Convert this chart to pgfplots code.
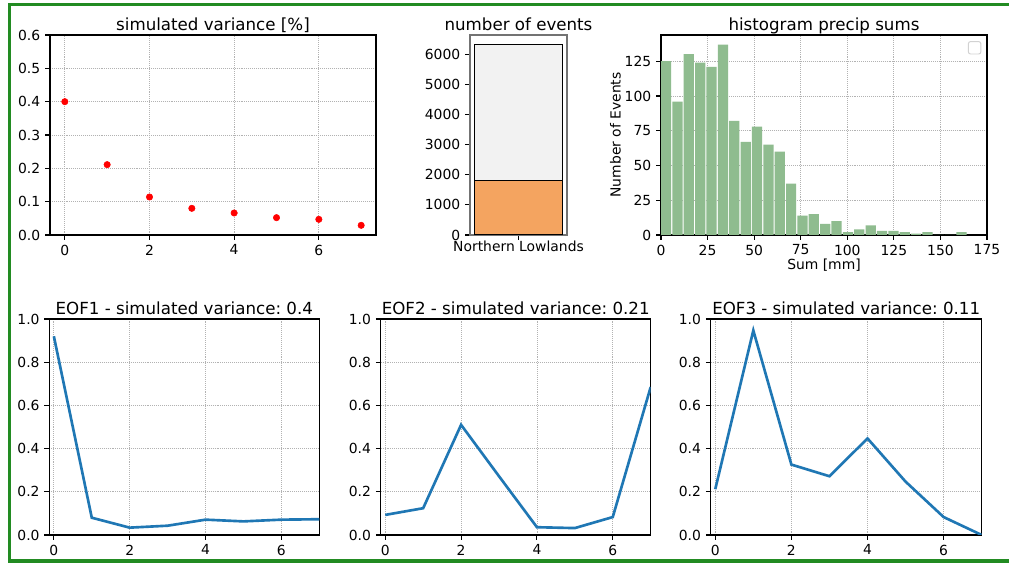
\documentclass[border=0pt]{standalone}
\usepackage{fontspec}
\setmainfont{DejaVu Sans}
\usepackage{pgfplots}
\pgfplotsset{compat=1.18}
\frenchspacing
\definecolor{mplblue}{HTML}{1F77B4}
\definecolor{forest}{HTML}{228B22}
\definecolor{sandy}{HTML}{F4A460}
\definecolor{smoke}{HTML}{F2F2F2}
\definecolor{seagreen}{HTML}{8FBC8F}
\pgfplotsset{
  mpl/.style={
    scale only axis,
    anchor=south west,
    axis line style={black, line width=0.8pt},
    tick align=outside,
    tick pos=left,
    major tick length=3.5pt,
    tick style={black, line width=0.8pt},
    tick label style={font=\fontsize{10}{12}\selectfont},
    /pgf/number format/assume math mode=true,
    title style={font=\fontsize{12}{14}\selectfont, at={(0.5,1)}, anchor=base, yshift=-2.5pt},
    label style={font=\fontsize{10}{12}\selectfont},
    major grid style={densely dotted, gray!60, line width=0.6pt},
  },
  dec1/.style={yticklabel style={/pgf/number format/.cd, fixed, fixed zerofill, precision=1}},
  eof/.style={mpl, dec1, width=194.4pt, height=155.52pt, xmin=-0.12, xmax=7, ymin=0, ymax=1,
    xtick={0,2,4,6}, ytick={0,0.2,...,1.0}, grid=major},
}
\begin{document}
\begin{tikzpicture}
\path[use as bounding box, clip] (0pt,0pt) rectangle (726.48pt,406.08pt);
\fill[white] (0pt,0pt) rectangle (726.48pt,406.08pt);
\draw[forest, line width=2.2pt] (6.84pt,2.16pt) rectangle (740pt,402.84pt);

% simulated variance
\begin{axis}[mpl, dec1, at={(36pt,236.88pt)}, width=234.72pt, height=144pt,
  xmin=-0.35, xmax=7.35, ymin=0, ymax=0.6,
  xtick={0,2,4,6}, ytick={0,0.1,...,0.6}, grid=major,
  title={simulated variance [\%]}]
\addplot[only marks, mark=*, mark size=2.3pt, color=red, mark options={fill=red, draw=red}]
  coordinates {(0,0.400) (1,0.211) (2,0.114) (3,0.080) (4,0.066) (5,0.052) (6,0.047) (7,0.029)};
\end{axis}

% number of events
\begin{axis}[mpl, at={(338.4pt,236.88pt)}, width=69.84pt, height=144pt,
  axis line style={black!55, line width=1.1pt},
  xmin=-0.44, xmax=0.44, ymin=0, ymax=6650,
  xtick={0}, xticklabels={Northern Lowlands},
  xticklabel style={yshift=2.5pt},
  ytick={0,1000,...,6000}, scaled y ticks=false,
  yticklabel style={/pgf/number format/1000 sep={}},
  title={number of events}]
\addplot[ybar, bar shift=0pt, bar width=0.8, fill=smoke, draw=black, line width=0.8pt]
  coordinates {(0,6320)};
\addplot[ybar, bar shift=0pt, bar width=0.8, fill=sandy, draw=black, line width=0.8pt]
  coordinates {(0,1820)};
\end{axis}

% histogram
\begin{axis}[mpl, at={(475.92pt,236.88pt)}, width=234.72pt, height=144pt,
  xmin=0, xmax=175, ymin=0, ymax=143.85,
  xtick={0,25,...,175}, ytick={0,25,...,125}, grid=major,
  xlabel={Sum [mm]}, ylabel={Number of Events},
  xlabel shift=-4pt, ylabel shift=-4pt,
  title={histogram precip sums}]
\addplot[ybar, bar shift=0pt, bar width=5.5, fill=seagreen, draw=none]
  coordinates {
  (2.75,125) (8.85,96) (14.95,130) (21.05,124) (27.15,121) (33.25,137)
  (39.35,82) (45.45,67) (51.55,78) (57.65,65) (63.75,60) (69.85,37)
  (75.95,14) (82.05,15) (88.15,8) (94.25,10) (100.35,2) (106.45,4)
  (112.55,7) (118.65,3) (124.75,3) (130.85,2) (136.95,1) (143.05,2)
  (149.15,0) (155.25,0) (161.35,2)};
\draw[gray!35, rounded corners=1.5pt, line width=0.7pt]
  (rel axis cs:0.943,0.905) rectangle (rel axis cs:0.981,0.967);
\end{axis}

% EOF1
\begin{axis}[eof, at={(35.5pt,20.88pt)}, title={EOF1 - simulated variance: 0.4}]
\addplot[mplblue, line width=1.9pt]
  coordinates {(0,0.920) (1,0.080) (2,0.034) (3,0.043) (4,0.071) (5,0.063) (6,0.071) (7,0.073)};
\end{axis}

% EOF2
\begin{axis}[eof, at={(274.1pt,20.88pt)}, title={EOF2 - simulated variance: 0.21}]
\addplot[mplblue, line width=1.9pt]
  coordinates {(0,0.093) (1,0.124) (2,0.510) (3,0.272) (4,0.036) (5,0.032) (6,0.083) (7,0.685)};
\end{axis}

% EOF3
\begin{axis}[eof, at={(511.7pt,20.88pt)}, width=195.12pt, title={EOF3 - simulated variance: 0.11}]
\addplot[mplblue, line width=1.9pt]
  coordinates {(0,0.212) (1,0.947) (2,0.326) (3,0.272) (4,0.447) (5,0.247) (6,0.083) (7,0.000)};
\end{axis}
\end{tikzpicture}
\end{document}
